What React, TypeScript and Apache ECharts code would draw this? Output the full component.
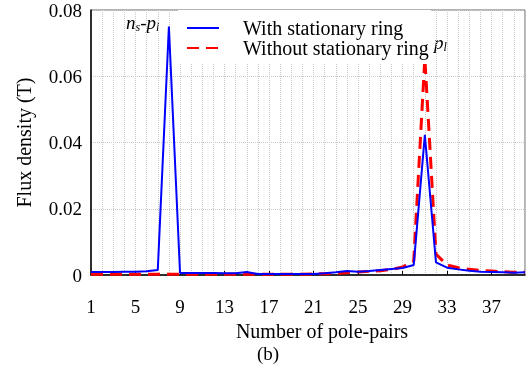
import React, { useEffect, useRef } from "react";
import * as echarts from "echarts";

const poleCategories = [
  "1","2","3","4","5","6","7","8","9","10",
  "11","12","13","14","15","16","17","18","19","20",
  "21","22","23","24","25","26","27","28","29","30",
  "31","32","33","34","35","36","37","38","39","40",
];

const withRing = [
  0.0009, 0.0009, 0.0009, 0.001, 0.001, 0.0011, 0.0015, 0.075, 0.0006, 0.0006,
  0.0006, 0.0006, 0.0005, 0.0005, 0.0009, 0.0003, 0.0003, 0.0003, 0.0003, 0.0003,
  0.0003, 0.0005, 0.0008, 0.0012, 0.001, 0.0012, 0.0015, 0.0018, 0.0021, 0.003,
  0.0423, 0.0038, 0.0022, 0.0017, 0.0013, 0.001, 0.0009, 0.0008, 0.0007, 0.0008,
];

const withoutRing = [
  0.0002, 0.0002, 0.0002, 0.0002, 0.0002, 0.0002, 0.0002, 0.0002, 0.0002, 0.0002,
  0.0002, 0.0002, 0.0002, 0.0002, 0.0002, 0.0002, 0.0002, 0.0002, 0.0002, 0.0002,
  0.0003, 0.0004, 0.0005, 0.0007, 0.0009, 0.0011, 0.0013, 0.0017, 0.0024, 0.0042,
  0.0655, 0.0063, 0.003, 0.0022, 0.0017, 0.0014, 0.0012, 0.001, 0.0008, 0.0008,
];

const seriesNames = ["With stationary ring", "Without stationary ring"];

const FONT = "'Liberation Serif', 'Times New Roman', serif";

export default function App() {
  const ref = useRef<HTMLDivElement>(null);
  useEffect(() => {
    if (!ref.current) return;
    const chart = echarts.init(ref.current, undefined, { renderer: "svg" });
    chart.setOption({
      animation: false,
      textStyle: { fontFamily: FONT },
      grid: {
        left: 91,
        right: 3,
        top: 10,
        bottom: 93,
        show: true,
        borderColor: "#666",
        borderWidth: 1,
      },
      title: {
        text: "(b)",
        left: 257,
        top: 344,
        padding: 0,
        textStyle: { fontFamily: FONT, fontSize: 19, fontWeight: "normal", color: "#000" },
      },
      legend: {
        orient: "vertical",
        left: 178,
        top: 10,
        padding: [8, 2, 6, 8],
        itemGap: 0,
        itemWidth: 32,
        itemHeight: 18,
        backgroundColor: "#fff",
        data: seriesNames,
        itemStyle: { opacity: 0 },
        textStyle: {
          fontFamily: FONT,
          fontSize: 20,
          color: "#000",
          lineHeight: 18,
          padding: [0, 0, 0, 19],
        },
      },
      xAxis: {
        type: "category",
        data: poleCategories,
        boundaryGap: false,
        name: "Number of pole-pairs",
        nameLocation: "middle",
        nameGap: 44,
        nameTextStyle: { fontFamily: FONT, fontSize: 20, color: "#000", padding: [0, 0, 0, 28] },
        axisLine: { lineStyle: { color: "#000", width: 1.5 } },
        axisTick: { show: true, inside: true, length: 4, interval: 3, lineStyle: { color: "#000" } },
        axisLabel: { interval: 3, margin: 22, fontFamily: FONT, fontSize: 19, color: "#000" },
        splitLine: { show: true, interval: 0, lineStyle: { color: "#c8c8c8", type: "dotted", width: 1 } },
      },
      yAxis: {
        type: "value",
        min: 0,
        max: 0.08,
        interval: 0.02,
        name: "Flux density (T)",
        nameLocation: "middle",
        nameGap: 57,
        nameTextStyle: { fontFamily: FONT, fontSize: 20, color: "#000" },
        axisLine: { show: true, lineStyle: { color: "#000", width: 1.5 } },
        axisTick: { show: false },
        axisLabel: {
          margin: 9,
          fontFamily: FONT,
          fontSize: 19,
          color: "#000",
          formatter: (v: number) => (v === 0 ? "0" : v.toFixed(2)),
        },
        splitLine: { show: true, lineStyle: { color: "#c8c8c8", type: "dotted", width: 1 } },
      },
      graphic: [
        {
          type: "text",
          left: 126,
          top: 13,
          style: {
            text: "{i|n}{sub|s}{n|-}{i|p}{sub|l}",
            rich: {
              i: { fontFamily: FONT, fontSize: 19, fontStyle: "italic", fill: "#000" },
              sub: { fontFamily: FONT, fontSize: 12, fontStyle: "italic", fill: "#000", padding: [8, 0, 0, 0] },
              n: { fontFamily: FONT, fontSize: 19, fill: "#000" },
            },
          },
        },
        {
          type: "text",
          left: 434,
          top: 33,
          style: {
            text: "{i|p}{sub|l}",
            rich: {
              i: { fontFamily: FONT, fontSize: 19, fontStyle: "italic", fill: "#000" },
              sub: { fontFamily: FONT, fontSize: 12, fontStyle: "italic", fill: "#000", padding: [8, 0, 0, 0] },
            },
          },
        },
      ],
      series: [
        {
          name: seriesNames[1],
          type: "line",
          data: withoutRing,
          symbol: "none",
          lineStyle: { color: "#ff0000", width: 3, type: [12, 7] },
          itemStyle: { color: "#ff0000" },
          z: 2,
        },
        {
          name: seriesNames[0],
          type: "line",
          data: withRing,
          symbol: "none",
          lineStyle: { color: "#0000ff", width: 2 },
          itemStyle: { color: "#0000ff" },
          z: 3,
        },
      ],
    });
    return () => chart.dispose();
  }, []);
  return (
    <div
      ref={ref}
      style={{ position: "fixed", left: 0, top: 0, width: 528, height: 368 }}
    />
  );
}
